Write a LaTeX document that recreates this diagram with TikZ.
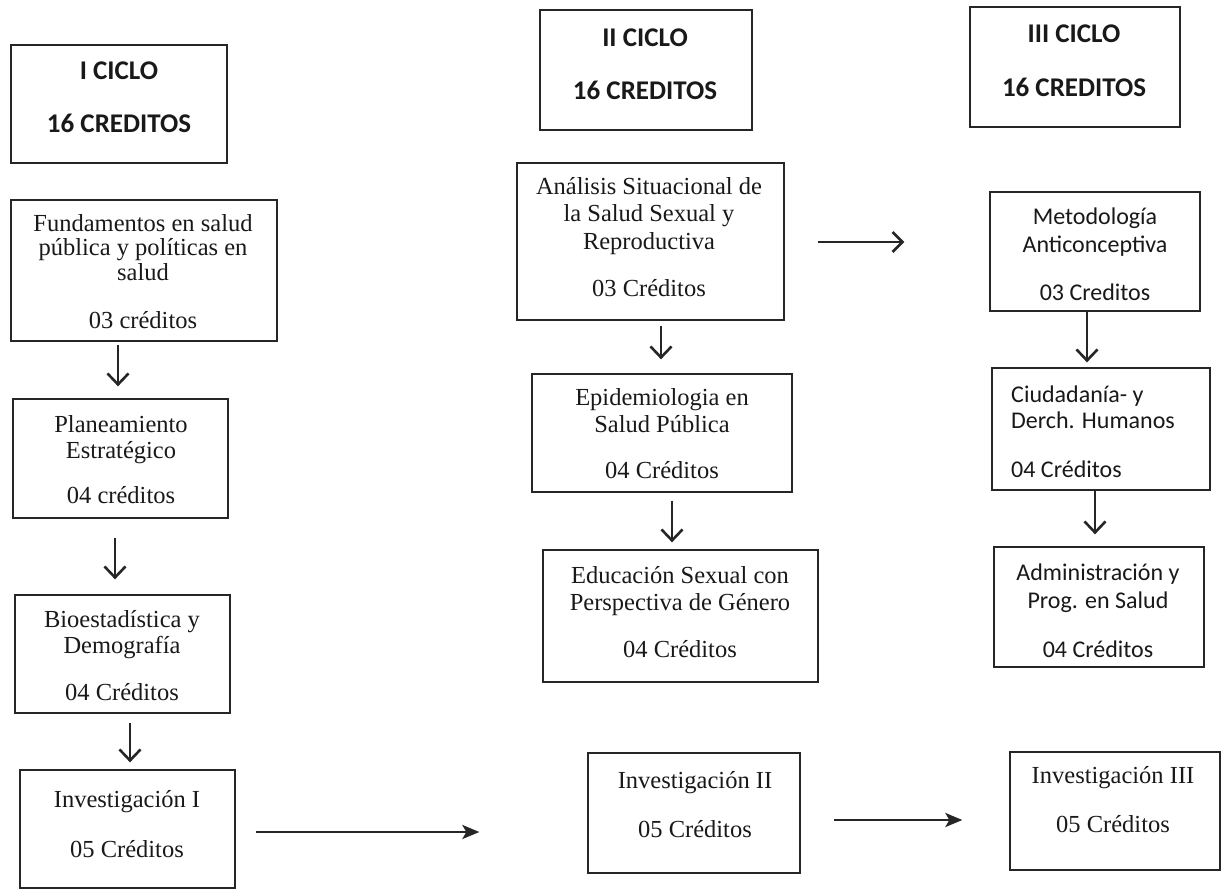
\documentclass[tikz,border=0pt]{standalone}
\usepackage{fontspec}
\setmainfont{Liberation Serif}
\newfontfamily\calib{Carlito}
\usetikzlibrary{arrows.meta,fit,calc}
\begin{document}
\begin{tikzpicture}[x=1pt,y=-1pt,
  box/.style={draw=black!85, line width=1.3pt, inner sep=0pt},
  sr/.style={anchor=base, inner sep=0pt, font=\fontsize{24.5}{28}\selectfont, text=black!90},
  cb/.style={anchor=base, inner sep=0pt, font=\calib\fontsize{24}{28}\selectfont, text=black!90},
  hd/.style={anchor=base, inner sep=0pt, font=\calib\bfseries\fontsize{27}{30}\selectfont, text=black!90},
  darr/.style={line width=2.6pt, draw=black!85, -{Straight Barb[length=11pt,width=21pt]}},
  harr/.style={line width=2.6pt, draw=black!85, -{Stealth[length=17pt,width=14pt,inset=4pt]}},
  barb/.style={line width=2.6pt, draw=black!85, -{Straight Barb[length=10pt,width=20pt]}}]
\useasboundingbox (0,0) rectangle (1223,893);
\fill[white] (0,0) rectangle (1223,893);

% ---- boxes ----
\node[box, fit={(11,45) (227,163)}] (c1) {};
\node[box, fit={(11,200) (277,341)}] (f1) {};
\node[box, fit={(13,399) (228,518)}] (p1) {};
\node[box, fit={(15,595) (230,713)}] (b1) {};
\node[box, fit={(20,770) (235,888)}] (i1) {};

\node[box, fit={(540,10) (752,130)}] (c2) {};
\node[box, fit={(517,163) (784,320)}] (a2) {};
\node[box, fit={(532,374) (792,492)}] (e2) {};
\node[box, fit={(543,550) (818,682)}] (ed2) {};
\node[box, fit={(588,753) (800,873)}] (i2) {};

\node[box, fit={(970,7) (1180,127)}] (c3) {};
\node[box, fit={(990,192) (1200,311)}] (m3) {};
\node[box, fit={(992,368) (1210,490)}] (ci3) {};
\node[box, fit={(994,547) (1204,667)}] (ad3) {};
\node[box, fit={(1010,752) (1220,870)}] (i3) {};

% ---- texts column I ----
\node[hd] (c1a) at (119,80) {I CICLO};
\node[hd] (c1b) at (119,133) {16 CREDITOS};
\node[sr] (f1a) at (143,232) {Fundamentos en salud};
\node[sr] (f1b) at (143,256) {pública y políticas en};
\node[sr] (f1c) at (143,280) {salud};
\node[sr] (f1d) at (143,328) {03 créditos};
\node[sr] (p1a) at (121,432) {Planeamiento};
\node[sr] (p1b) at (121,458) {Estratégico};
\node[sr] (p1c) at (121,503) {04 créditos};
\node[sr] (b1a) at (122,627) {Bioestadística y};
\node[sr] (b1b) at (122,653) {Demografía};
\node[sr] (b1c) at (122,700) {04 Créditos};
\node[sr] (i1a) at (127,807) {Investigación I};
\node[sr] (i1b) at (127,857) {05 Créditos};

% ---- texts column II ----
\node[hd] (c2a) at (645,47) {II CICLO};
\node[hd] (c2b) at (645,100) {16 CREDITOS};
\node[sr] (a2a) at (649,195) {Análisis Situacional de};
\node[sr] (a2b) at (649,222) {la Salud Sexual y};
\node[sr] (a2c) at (649,250) {Reproductiva};
\node[sr] (a2d) at (649,297) {03 Créditos};
\node[sr] (e2a) at (662,405) {Epidemiologia en};
\node[sr] (e2b) at (662,432) {Salud Pública};
\node[sr] (e2c) at (662,478) {04 Créditos};
\node[sr] (ed2a) at (680,583) {Educación Sexual con};
\node[sr] (ed2b) at (680,610) {Perspectiva de Género};
\node[sr] (ed2c) at (680,657) {04 Créditos};
\node[sr] (i2a) at (695,788) {Investigación II};
\node[sr] (i2b) at (695,837) {05 Créditos};

% ---- texts column III ----
\node[hd] (c3a) at (1074,43) {III CICLO};
\node[hd] (c3b) at (1074,97) {16 CREDITOS};
\node[cb] (m3a) at (1095,225) {Metodología};
\node[cb] (m3b) at (1095,253) {Anticonceptiva};
\node[cb] (m3c) at (1095,300) {03 Creditos};
\node[cb, anchor=base west] (ci3a) at (1011,402) {Ciudadanía- y};
\node[cb, anchor=base west] (ci3b) at (1011,428) {Derch. Humanos};
\node[cb, anchor=base west] (ci3c) at (1011,477) {04 Créditos};
\node[cb] (ad3a) at (1098,580) {Administración y};
\node[cb] (ad3b) at (1098,608) {Prog. en Salud};
\node[cb] (ad3c) at (1098,657) {04 Créditos};
\node[sr] (i3a) at (1113,783) {Investigación III};
\node[sr] (i3b) at (1113,832) {05 Créditos};

% ---- arrow positions ----
\coordinate (x1) at (118,0);
\coordinate (x2) at (115,0);
\coordinate (x3) at (130,0);
\coordinate (x4) at (661,0);
\coordinate (x5) at (672,0);
\coordinate (x6) at (1087,0);
\coordinate (x7) at (1095,0);
\coordinate (y1) at (0,242);
\coordinate (y2) at (0,832);
\coordinate (y3) at (0,820);

% ---- vertical arrows ----
\draw[darr, shorten <=3pt, shorten >=12pt] (x1 |- f1.south) -- (x1 |- p1.north);
\draw[darr, shorten <=19pt, shorten >=15pt] (x2 |- p1.south) -- (x2 |- b1.north);
\draw[darr, shorten <=9pt, shorten >=7pt] (x3 |- b1.south) -- (x3 |- i1.north);
\draw[darr, shorten <=5pt, shorten >=14pt] (x4 |- a2.south) -- (x4 |- e2.north);
\draw[darr, shorten <=8pt, shorten >=7pt] (x5 |- e2.south) -- (x5 |- ed2.north);
\draw[darr, shorten >=5pt] (x6 |- m3.south) -- (x6 |- ci3.north);
\draw[darr, shorten >=12pt] (x7 |- ci3.south) -- (x7 |- ad3.north);

% ---- horizontal arrows ----
\draw[barb, shorten <=33pt, shorten >=85pt] (a2.east |- y1) -- (m3.west |- y1);
\draw[harr, shorten <=20pt, shorten >=108pt] (i1.east |- y2) -- (i2.west |- y2);
\draw[harr, shorten <=33pt, shorten >=47pt] (i2.east |- y3) -- (i3.west |- y3);
\end{tikzpicture}
\end{document}
